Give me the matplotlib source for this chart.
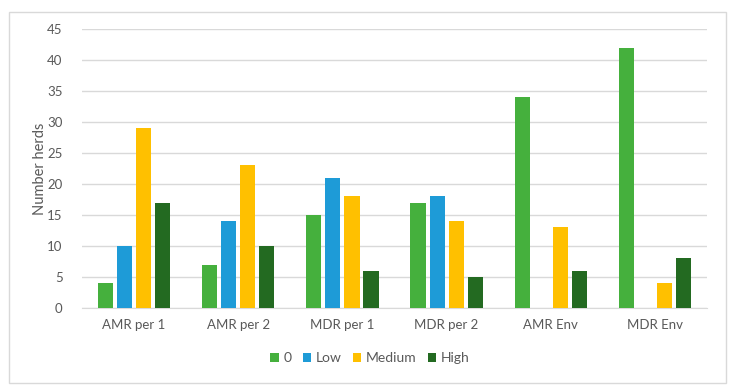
import matplotlib
matplotlib.use("Agg")
import matplotlib.pyplot as plt
import numpy as np
from matplotlib.patches import Rectangle

categories = ["AMR per 1", "AMR per 2", "MDR per 1", "MDR per 2", "AMR Env", "MDR Env"]
series_names = ["0", "Low", "Medium", "High"]
vals_0 = [4, 7, 15, 17, 34, 42]
vals_low = [10, 14, 21, 18, 0, 0]
vals_medium = [29, 23, 18, 14, 13, 4]
vals_high = [17, 10, 6, 5, 6, 8]
yticks = [0, 5, 10, 15, 20, 25, 30, 35, 40, 45]

colors = ["#45B03D", "#1E9BD7", "#FFC000", "#236A21"]
plt.rcParams['font.family'] = ['Lato', 'DejaVu Sans']

W, H = 737, 392
fig = plt.figure(figsize=(W/100, H/100), dpi=100)
# outer border
fig.patches.append(Rectangle((9/W, 1-383/H), (726-9)/W, (383-12)/H, transform=fig.transFigure,
                             fill=False, edgecolor="#D9D9D9", linewidth=1))
ax = fig.add_axes([82/W, 1-308/H, (707-82)/W, (308-29)/H])
x = np.arange(len(categories))
step = 0.183
width = 0.145
for i, (vals, c, name) in enumerate(zip([vals_0, vals_low, vals_medium, vals_high], colors, series_names)):
    ax.bar(x + (i-1.5)*step, vals, width=width, color=c, label=name, zorder=3)

ax.set_xlim(-0.5, len(categories)-0.5)
ax.set_ylim(0, 45)
ax.set_yticks(yticks)
ax.set_xticks(x)
ax.set_xticklabels(categories)
ax.grid(axis='y', color="#D9D9D9", linewidth=1, zorder=0)
for s in ["top", "right", "left"]:
    ax.spines[s].set_visible(False)
ax.spines["bottom"].set_color("#D9D9D9")
ax.tick_params(axis='both', length=0, labelsize=9.5, labelcolor="#595959")
ax.tick_params(axis='x', pad=8)
ax.tick_params(axis='y', pad=14)
ax.set_ylabel("Number herds", fontsize=10.5, color="#595959")
ax.yaxis.set_label_coords((47-82)/(707-82), 0.5)
leg = fig.legend(loc='center', bbox_to_anchor=(370/W, 1-358/H), ncol=4, frameon=False,
                 fontsize=10, handlelength=0.6, handleheight=0.6, handletextpad=0.35,
                 columnspacing=0.8, labelcolor="#595959")
fig.savefig("out.png", dpi=100, facecolor="white")
